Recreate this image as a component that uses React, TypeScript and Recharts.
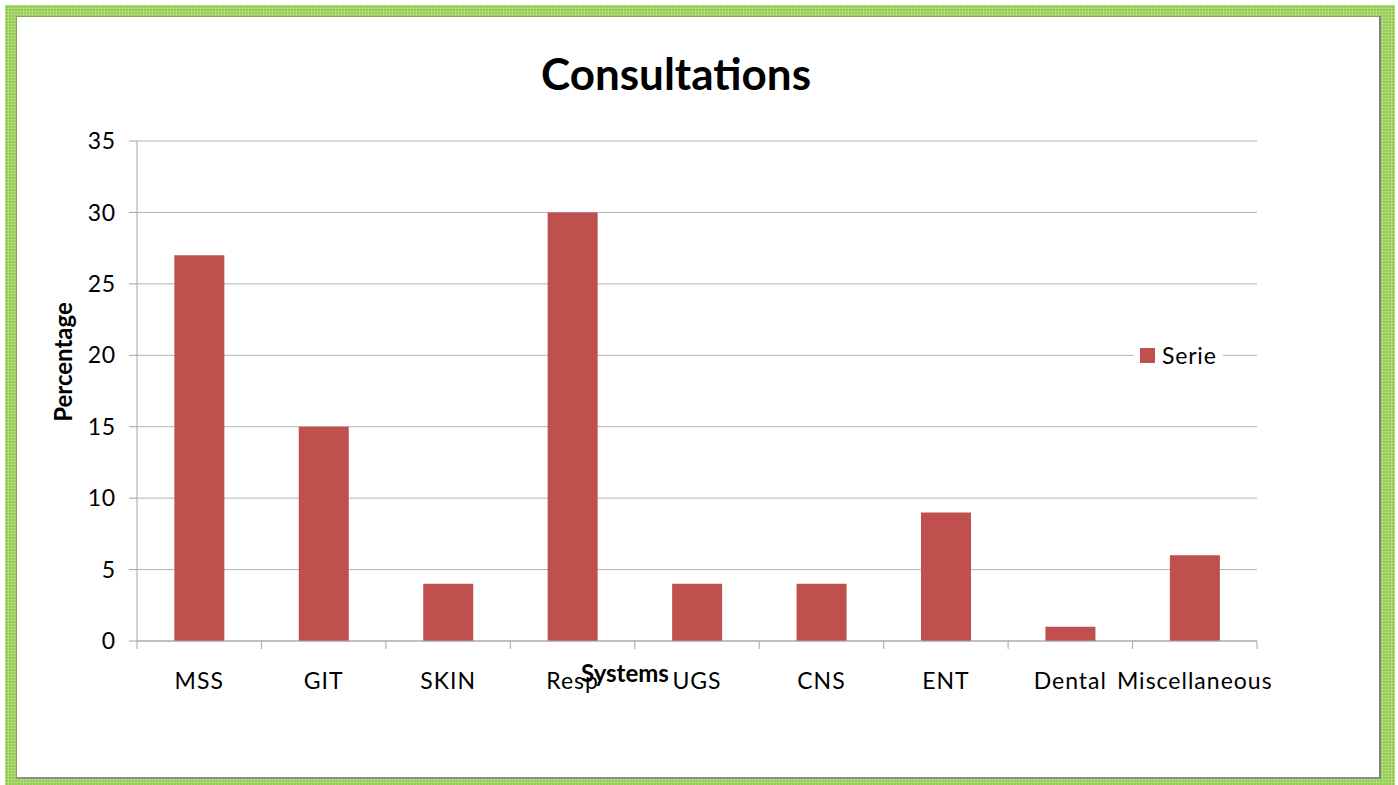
import React from "react";
import { BarChart, Bar, XAxis, YAxis, CartesianGrid, Legend } from "recharts";

const categories = ["MSS", "GIT", "SKIN", "Resp", "UGS", "CNS", "ENT", "Dental", "Miscellaneous"];
const serieValues = [27, 15, 4, 30, 4, 4, 9, 1, 6];
const yTicks = [0, 5, 10, 15, 20, 25, 30, 35];
const seriesName = "Serie";
const chartTitle = "Consultations";
const xTitle = "Systems";
const yTitle = "Percentage";

const data = categories.map((c, i) => ({ name: c, value: serieValues[i] }));

const FONT = "Lato, 'Noto Sans', sans-serif";
const TICK_SIZE = 8;
const X_TICK_MARGIN = 24;
const AXIS_GRAY = "#a6a6a6";

const XTick = (props: any) => {
  const { x, y, payload, index } = props;
  const axisY = y - TICK_SIZE - X_TICK_MARGIN;
  const off = payload && payload.offset ? payload.offset : 0;
  const isLast = index === categories.length - 1;
  return (
    <g>
      <line x1={x - off} x2={x - off} y1={axisY} y2={axisY + TICK_SIZE} stroke={AXIS_GRAY} strokeWidth={1} />
      {isLast && (
        <line x1={x + off} x2={x + off} y1={axisY} y2={axisY + TICK_SIZE} stroke={AXIS_GRAY} strokeWidth={1} />
      )}
      <text x={x} y={y} dy="0.71em" textAnchor="middle" fill="#000" fontFamily={FONT} fontSize={23} letterSpacing={1}>
        {payload.value}
      </text>
    </g>
  );
};

const LegendContent = (props: any) => {
  const { payload } = props;
  return (
    <div style={{ background: "#fff", display: "flex", alignItems: "center", padding: "0 6px" }}>
      {(payload || []).map((p: any) => (
        <div key={p.value} style={{ display: "flex", alignItems: "center" }}>
          <span style={{ display: "inline-block", width: 15, height: 15, background: p.color, marginRight: 7 }} />
          <span style={{ fontFamily: FONT, fontSize: 23, color: "#000", letterSpacing: 0.8, lineHeight: "26px" }}>{p.value}</span>
        </div>
      ))}
    </div>
  );
};

export default function App() {
  const pattern =
    "repeating-linear-gradient(0deg, rgba(255,255,255,0.2) 0px, rgba(255,255,255,0.2) 1px, transparent 1px, transparent 3px), repeating-linear-gradient(90deg, rgba(255,255,255,0.2) 0px, rgba(255,255,255,0.2) 1px, transparent 1px, transparent 3px)";
  return (
    <div style={{ position: "absolute", left: 0, top: 0, width: 1398, height: 785, background: "#fff", overflow: "hidden" }}>
      <div
        style={{
          position: "absolute",
          left: 5,
          top: 5,
          width: 1390,
          height: 790,
          backgroundColor: "#94cd50",
          backgroundImage: pattern,
        }}
      />
      <div
        style={{
          position: "absolute",
          left: 16,
          top: 16,
          width: 1362,
          height: 760,
          background: "#fff",
          borderTop: "1px solid #7da84e",
          borderLeft: "1px solid #7da84e",
          borderRight: "2px solid #7f7f7f",
          borderBottom: "2px solid #8c8c8c",
        }}
      />
      <div style={{ position: "absolute", left: 0, top: 0 }}>
        <BarChart
          width={1398}
          height={785}
          data={data}
          margin={{ top: 141, right: 141, bottom: 104, left: 77 }}
          barCategoryGap="30%"
        >
          <CartesianGrid vertical={false} stroke="#b3b3b3" strokeWidth={1} />
          <XAxis
            dataKey="name"
            height={40}
            axisLine={{ stroke: AXIS_GRAY }}
            tickLine={false}
            tickSize={TICK_SIZE}
            tickMargin={X_TICK_MARGIN}
            tick={<XTick />}
            interval={0}
          />
          <YAxis
            width={60}
            domain={[0, 35]}
            ticks={yTicks}
            interval={0}
            axisLine={{ stroke: AXIS_GRAY }}
            tickLine={{ stroke: AXIS_GRAY }}
            tickSize={TICK_SIZE}
            tickMargin={13}
            tick={{ fill: "#000", fontFamily: FONT, fontSize: 23, letterSpacing: 0.8 }}
          />
          <Legend
            layout="horizontal"
            verticalAlign="middle"
            align="center"
            content={<LegendContent />}
            wrapperStyle={{ position: "absolute", left: 1134, top: 342, width: "auto" }}
          />
          <Bar dataKey="value" name={seriesName} fill="#c0504d" isAnimationActive={false} />
        </BarChart>
      </div>
      <div
        style={{
          position: "absolute",
          left: 0,
          width: 1352,
          top: 46,
          textAlign: "center",
          fontFamily: FONT,
          fontWeight: 700,
          fontSize: 44,
          lineHeight: "54px",
          color: "#000",
        }}
      >
        {chartTitle}
      </div>
      <div
        style={{
          position: "absolute",
          left: 625,
          top: 672,
          transform: "translate(-50%, -50%)",
          fontFamily: FONT,
          fontWeight: 700,
          fontSize: 24,
          color: "#000",
          whiteSpace: "nowrap",
        }}
      >
        {xTitle}
      </div>
      <div
        style={{
          position: "absolute",
          left: 62,
          top: 362,
          transform: "translate(-50%, -50%) rotate(-90deg)",
          fontFamily: FONT,
          fontWeight: 700,
          fontSize: 24,
          color: "#000",
          whiteSpace: "nowrap",
        }}
      >
        {yTitle}
      </div>
    </div>
  );
}
